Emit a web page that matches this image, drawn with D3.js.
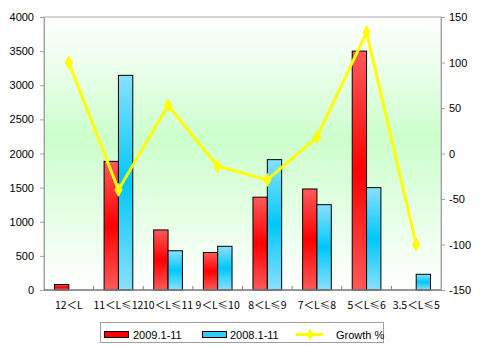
<!DOCTYPE html>
<html><head><meta charset="utf-8">
<script src="https://cdn.jsdelivr.net/npm/d3@7/dist/d3.min.js"></script>
<style>body{margin:0;background:#fff}svg{display:block}</style>
</head><body><svg id="c" width="480" height="346"></svg>
<script>
const categories = ["12＜L","11＜L≤12","10＜L≤11","9＜L≤10","8＜L≤9","7＜L≤8","5＜L≤6","3.5＜L≤5"];
const sales2009 = [80, 1885, 880, 550, 1360, 1480, 3500, 0];
const sales2008 = [0, 3145, 575, 640, 1910, 1250, 1500, 230];
const growth = [100, -40, 53, -14, -29, 18, 133, -100];
const leftTicks = [0,500,1000,1500,2000,2500,3000,3500,4000];
const rightTicks = [-150,-100,-50,0,50,100,150];
const seriesNames = ["2009.1-11","2008.1-11","Growth %"];

const svg = d3.select("#c");
const m = {l:44, r:441, t:17, b:290};
const defs = svg.append("defs");
const bg = defs.append("linearGradient").attr("id","bg").attr("x1",0).attr("y1",0).attr("x2",0).attr("y2",1);
bg.append("stop").attr("offset","0%").attr("stop-color","#ffffff");
bg.append("stop").attr("offset","45%").attr("stop-color","#ccffcc");
bg.append("stop").attr("offset","100%").attr("stop-color","#ffffff");
function barGrad(id, edge, mid){
  const g = defs.append("linearGradient").attr("id",id).attr("x1",0).attr("y1",0).attr("x2",0).attr("y2",1);
  g.append("stop").attr("offset","0%").attr("stop-color",edge);
  g.append("stop").attr("offset","50%").attr("stop-color",mid);
  g.append("stop").attr("offset","100%").attr("stop-color",edge);
}
barGrad("gr","#ff5a5a","#ff0000");
barGrad("gb","#8ae0ff","#00c8f8");

svg.append("rect").attr("x",m.l).attr("y",m.t).attr("width",m.r-m.l).attr("height",m.b-m.t)
  .attr("fill","url(#bg)").attr("stroke","#c8c8c8").attr("stroke-width",1.5);

const x = d3.scaleBand().domain(categories).range([m.l,m.r]);
const xs = d3.scaleBand().domain([0,1]).range([0,x.bandwidth()]).paddingInner(0).paddingOuter(0.73);
const yL = d3.scaleLinear().domain([0,4000]).range([m.b,m.t]);
const yR = d3.scaleLinear().domain([-150,150]).range([m.b,m.t]);

const series = [{v:sales2009,f:"url(#gr)",i:0},{v:sales2008,f:"url(#gb)",i:1}];
series.forEach(s=>{
  svg.append("g").selectAll("rect").data(categories.map((c,k)=>({c,v:s.v[k]})).filter(d=>d.v>0))
    .join("rect")
    .attr("x",d=>x(d.c)+xs(s.i)).attr("width",xs.bandwidth())
    .attr("y",d=>yL(d.v)).attr("height",d=>yL(0)-yL(d.v))
    .attr("fill",s.f).attr("stroke","#000").attr("stroke-width",1);
});

const fmt = v => String(v);
const axL = d3.axisLeft(yL).tickValues(leftTicks).tickFormat(fmt).tickSize(4).tickPadding(6);
const gL = svg.append("g").attr("transform",`translate(${m.l},0)`).call(axL);
const axR = d3.axisRight(yR).tickValues(rightTicks).tickFormat(fmt).tickSize(4).tickPadding(4);
const gR = svg.append("g").attr("transform",`translate(${m.r},0)`).call(axR);
[gL,gR].forEach(g=>{
  g.select(".domain").attr("stroke","#a0a0a0");
  g.selectAll(".tick line").attr("stroke","#a0a0a0");
  g.selectAll("text").attr("font-family","Arial, 'Liberation Sans', sans-serif").attr("font-size",11).attr("fill","#000");
});
svg.append("line").attr("x1",m.l).attr("x2",m.r).attr("y1",m.b).attr("y2",m.b).attr("stroke","#808080").attr("stroke-width",1.5);
svg.append("g").selectAll("line").data(categories.slice(1)).join("line")
  .attr("x1",d=>x(d)).attr("x2",d=>x(d)).attr("y1",m.b).attr("y2",m.b-4).attr("stroke","#808080");
svg.append("g").selectAll("text").data(categories).join("text")
  .attr("x",d=>x(d)+x.bandwidth()/2).attr("y",309).attr("text-anchor","middle")
  .attr("font-family","'Noto Sans CJK SC', sans-serif").attr("font-size",10.5).attr("fill","#000")
  .text(d=>d);

const pts = categories.map((c,k)=>[x(c)+x.bandwidth()/2, yR(growth[k])]);
svg.append("path").attr("d",d3.line()(pts)).attr("fill","none").attr("stroke","#ffff00").attr("stroke-width",3);
svg.append("g").selectAll("path").data(pts).join("path")
  .attr("transform",d=>`translate(${d[0]},${d[1]})`)
  .attr("d",d3.symbol(d3.symbolDiamond,60)())
  .attr("fill","#ffff00");

const lg = svg.append("g");
lg.append("rect").attr("x",100.5).attr("y",322.5).attr("width",283).attr("height",20).attr("fill","#fff").attr("stroke","#a0a0a0");
lg.append("rect").attr("x",104.5).attr("y",331.5).attr("width",24).attr("height",6).attr("fill","#ff0000").attr("stroke","#000");
lg.append("rect").attr("x",202.5).attr("y",331.5).attr("width",24).attr("height",6).attr("fill","#33ccff").attr("stroke","#000");
lg.append("line").attr("x1",296).attr("x2",323).attr("y1",334.5).attr("y2",334.5).attr("stroke","#ffff00").attr("stroke-width",3);
lg.append("path").attr("transform","translate(310,334.5)").attr("d",d3.symbol(d3.symbolDiamond,40)()).attr("fill","#ffff00");
[[133,seriesNames[0]],[230,seriesNames[1]],[336,seriesNames[2]]].forEach(([tx,t])=>{
  lg.append("text").attr("x",tx).attr("y",338.5).attr("font-family","Arial, 'Liberation Sans', sans-serif").attr("font-size",11).text(t);
});
</script></body></html>
